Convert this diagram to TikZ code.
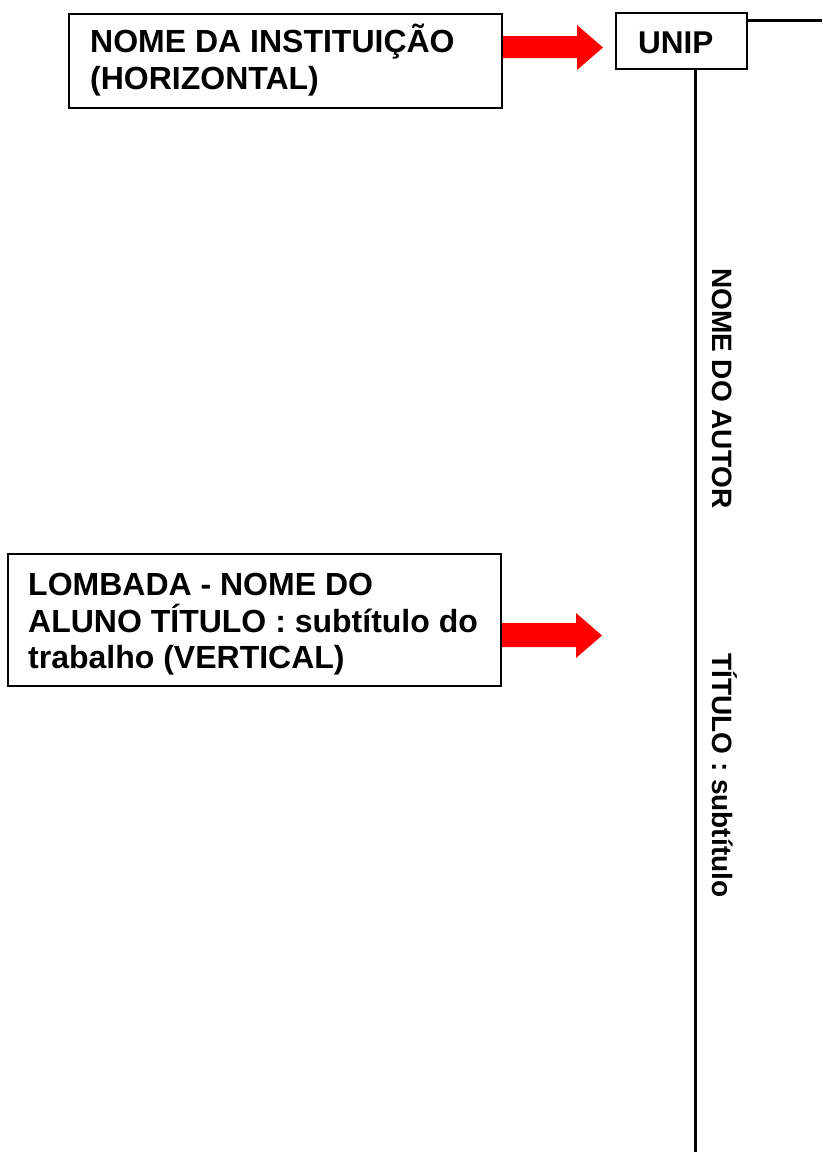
\documentclass[tikz,border=0pt]{standalone}
\usepackage{fontspec}
\setmainfont{Liberation Sans}
\begin{document}
\begin{tikzpicture}[x=1pt,y=-1pt,
  boxst/.style={draw=black, line width=2pt, fill=white, inner sep=0pt},
  lbl/.style={font=\bfseries\fontsize{32}{37}\selectfont, anchor=base west, inner sep=0pt},
  vlbl/.style={font=\bfseries\fontsize{28}{32}\selectfont, rotate=-90, anchor=base west, inner sep=0pt},
  redarrow/.style={fill=red, draw=none},
  spine/.style={draw=black, line width=3pt}]
\useasboundingbox (0,0) rectangle (822,1154);
% arrows
\fill[redarrow] (500,36) -- (577,36) -- (577,25) -- (603,47.5) -- (577,70) -- (577,58) -- (500,58) -- cycle;
\fill[redarrow] (500,623) -- (576,623) -- (576,613) -- (602,635.5) -- (576,658) -- (576,647) -- (500,647) -- cycle;
% boxes
\node[boxst, minimum width=433pt, minimum height=94pt] (inst) at (285.5,61) {};
\node[boxst, minimum width=131pt, minimum height=56pt] (unip) at (681.5,41) {};
\node[boxst, minimum width=493pt, minimum height=132pt] (lomb) at (254.5,620) {};
% texts
\node[lbl] (t1a) at (90,52.5) {NOME DA INSTITUIÇÃO};
\node[lbl] (t1b) at (90,89.5) {(HORIZONTAL)};
\node[lbl, font=\bfseries\fontsize{31.5}{37}\selectfont] (tu) at (638,53) {UNIP};
\node[lbl] (t2a) at (28,595) {LOMBADA - NOME DO};
\node[lbl] (t2b) at (28,632) {ALUNO TÍTULO : subtítulo do};
\node[lbl] (t2c) at (28,668.5) {trabalho (VERTICAL)};
\node[vlbl] (va) at (712,268) {NOME DO AUTOR};
\node[vlbl] (vb) at (712,653) {TÍTULO : subtítulo};
% lines
\coordinate (vbot) at (695,1152);
\coordinate (hend) at (822,20);
\draw[spine] (vbot |- unip.south) -- (vbot);
\draw[spine] (unip.east |- hend) -- (hend);
\end{tikzpicture}
\end{document}
